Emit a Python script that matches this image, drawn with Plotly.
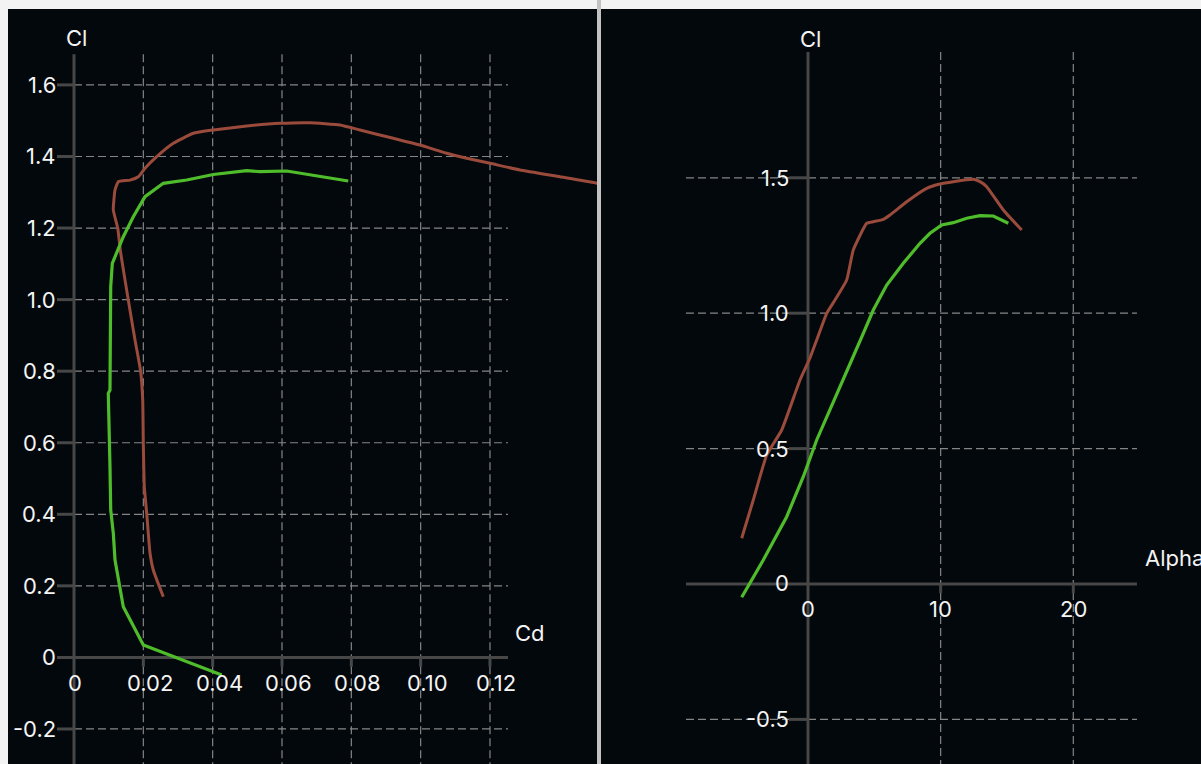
import plotly.graph_objects as go

# ---- polar data: lift coefficient vs drag coefficient ----
cd_brown = [0.02576, 0.02287, 0.02192, 0.02097, 0.02028, 0.01999, 0.01982, 0.01924,
            0.01760, 0.01566, 0.01347, 0.01261, 0.01134, 0.01183, 0.01278, 0.01615,
            0.01855, 0.02048, 0.02386, 0.02864, 0.03441, 0.04018, 0.04982, 0.05942,
            0.06808, 0.07673, 0.08250, 0.09211, 0.09981, 0.10751, 0.11328, 0.12000,
            0.12865, 0.14019, 0.15029, 0.1575]
cl_brown_polar = [0.1696, 0.2443, 0.2918, 0.4036, 0.4771, 0.5992, 0.7194, 0.7985,
                  0.8871, 0.9989, 1.1302, 1.2001, 1.2504, 1.3063, 1.3295, 1.3340,
                  1.3435, 1.3670, 1.3994, 1.4368, 1.4648, 1.4740, 1.4852, 1.4927,
                  1.4944, 1.4880, 1.4740, 1.4508, 1.4321, 1.4089, 1.3949, 1.3809,
                  1.3622, 1.3435, 1.3267, 1.3072]

cd_green = [0.04261, 0.01999, 0.01422, 0.01278, 0.01183, 0.01134, 0.01059, 0.01038,
            0.00989, 0.00989, 0.01038, 0.01038, 0.01059, 0.01105, 0.01232, 0.01422,
            0.01711, 0.02048, 0.02576, 0.03251, 0.04018, 0.04982, 0.05365, 0.06136,
            0.07912]
cl_green_polar = [-0.0492, 0.0347, 0.1417, 0.2163, 0.2722, 0.3468, 0.4120, 0.5330,
                  0.6727, 0.7381, 0.7473, 0.9989, 1.0361, 1.1015, 1.1294, 1.1758,
                  1.2317, 1.2876, 1.3250, 1.3343, 1.3496, 1.3603, 1.3575, 1.3594,
                  1.3315]

# ---- lift curves: lift coefficient vs angle of attack ----
alpha_brown = [-4.998, -4.124, -3.113, -1.983, -0.603, 0.151, 0.656, 1.410, 2.035,
               2.917, 3.415, 4.425, 4.923, 5.677, 6.182, 7.441, 8.948, 9.951,
               10.954, 12.462, 12.966, 13.471, 14.723, 16.110]
cl_brown = [0.1688, 0.3102, 0.4764, 0.5687, 0.7533, 0.8346, 0.9010, 0.9996, 1.0487,
            1.1226, 1.2334, 1.3320, 1.3379, 1.3467, 1.3626, 1.4117, 1.4612, 1.4771,
            1.4856, 1.4945, 1.4856, 1.4671, 1.3811, 1.3072]

alpha_green = [-4.998, -3.370, -1.606, -0.354, 0.656, 2.164, 3.294, 4.169, 4.923,
               5.933, 7.184, 8.443, 9.197, 10.079, 10.954, 11.964, 12.966, 13.969,
               15.100]
cl_green = [-0.0491, 0.0886, 0.2485, 0.3962, 0.5318, 0.7042, 0.8272, 0.9258, 1.0118,
            1.1041, 1.1843, 1.2581, 1.2950, 1.3257, 1.3342, 1.3504, 1.3600, 1.3589,
            1.3320]

# ---- ticks ----
cd_ticks = [0.02, 0.04, 0.06, 0.08, 0.10, 0.12]
cd_tick_text = ["0.02", "0.04", "0.06", "0.08", "0.10", "0.12"]
cl_ticks_left = [-0.2, 0.2, 0.4, 0.6, 0.8, 1.0, 1.2, 1.4, 1.6]
cl_tick_text_left = ["-0.2", "0.2", "0.4", "0.6", "0.8", "1.0", "1.2", "1.4", "1.6"]
alpha_ticks = [10, 20]
alpha_tick_text = ["10", "20"]
cl_ticks_right = [-0.5, 0.5, 1.0, 1.5]
cl_tick_text_right = ["-0.5", "0.5", "1.0", "1.5"]

BG = "#03080c"
AXIS = "#474747"
GRID = "#858585"
TEXT = "#f4f4f4"
BROWN = "#9a4b3c"
GREEN = "#4fbd2b"
FONT = dict(family="Inter, Liberation Sans, sans-serif", size=22, color=TEXT)

W, H = 1201, 764

fig = go.Figure()
fig.add_trace(go.Scatter(x=cd_brown, y=cl_brown_polar, mode="lines",
                         line=dict(color=BROWN, width=3, shape="spline", smoothing=0.4),
                         xaxis="x", yaxis="y"))
fig.add_trace(go.Scatter(x=cd_green, y=cl_green_polar, mode="lines",
                         line=dict(color=GREEN, width=3.2), xaxis="x", yaxis="y"))
fig.add_trace(go.Scatter(x=alpha_brown, y=cl_brown, mode="lines",
                         line=dict(color=BROWN, width=3, shape="spline", smoothing=0.4),
                         xaxis="x2", yaxis="y2"))
fig.add_trace(go.Scatter(x=alpha_green, y=cl_green, mode="lines",
                         line=dict(color=GREEN, width=3.2), xaxis="x2", yaxis="y2"))

# axis ranges for each panel
L_X = [-0.01904, 0.15087]
L_Y = [-0.2979, 1.8122]
R_X = [-15.605, 29.627]
R_Y = [-0.6647, 2.1233]

# extents of the drawn axes / grid
L_XMIN, L_XMAX, L_YTOP = -0.0049, 0.1252, 1.686
R_XMIN, R_XMAX, R_YTOP = -9.2, 24.8, 1.9645
L_YTICK = 0.026
R_YTICK = 0.034
R_XTICK = 1.43

shapes = []


def seg(xr, yr, x0, y0, x1, y1, color, width, dash="solid"):
    shapes.append(dict(type="line", xref=xr, yref=yr, x0=x0, y0=y0, x1=x1, y1=y1,
                       line=dict(color=color, width=width, dash=dash), layer="below"))


grid_dash = "8px,4px"

# left panel grid
for v in cl_ticks_left:
    seg("x", "y", 0, v, L_XMAX, v, GRID, 1.2, grid_dash)
    seg("x", "y", L_XMIN, v, 0, v, AXIS, 3)
for v in cd_ticks:
    seg("x", "y", v, L_YTOP, v, L_Y[0], GRID, 1.2, grid_dash)
    seg("x", "y", v, 0, v, -L_YTICK, AXIS, 3)
seg("x", "y", 0, L_YTOP, 0, L_Y[0], AXIS, 3)
seg("x", "y", L_XMIN, 0, L_XMAX, 0, AXIS, 3)

# right panel grid
for v in cl_ticks_right:
    seg("x2", "y2", 0, v, R_XMAX, v, GRID, 1.2, grid_dash)
    seg("x2", "y2", R_XMIN, v, -R_XTICK, v, GRID, 1.2, grid_dash)
    seg("x2", "y2", -R_XTICK, v, 0, v, AXIS, 3)
for v in alpha_ticks:
    seg("x2", "y2", v, R_YTOP, v, R_Y[0], GRID, 1.2, grid_dash)
    seg("x2", "y2", v, 0, v, -R_YTICK, AXIS, 3)
seg("x2", "y2", 0, R_YTOP, 0, R_Y[0], AXIS, 3)
seg("x2", "y2", R_XMIN, 0, R_XMAX, 0, AXIS, 3)

# divider between the panels
shapes.append(dict(type="rect", xref="paper", yref="paper", x0=597 / W, x1=601 / W,
                   y0=0, y1=1, fillcolor="#c2c2c2", line=dict(width=0), layer="above"))

annotations = []


def label(xr, yr, x, y, text, xanchor="center", xshift=0, yshift=0):
    annotations.append(dict(xref=xr, yref=yr, x=x, y=y, text=text, showarrow=False,
                            xanchor=xanchor, yanchor="middle", xshift=xshift,
                            yshift=yshift, font=FONT))


# left tick labels
label("x", "y", 0, 0, "0", xanchor="right", xshift=-16)
for v, t in zip(cl_ticks_left, cl_tick_text_left):
    label("x", "y", 0, v, t, xanchor="right", xshift=-16)
label("x", "y", 0, 0, "0", xshift=1, yshift=-26)
for v, t in zip(cd_ticks, cd_tick_text):
    label("x", "y", v, 0, t, xshift=6.5, yshift=-26)
label("x", "y", 0, L_YTOP, "Cl", xshift=2, yshift=16)
label("x", "y", L_XMAX, 0, "Cd", xanchor="left", xshift=5, yshift=24)

# right tick labels
label("x2", "y2", 0, 0, "0", xanchor="right", xshift=-17, yshift=1)
for v, t in zip(cl_ticks_right, cl_tick_text_right):
    label("x2", "y2", 0, v, t, xanchor="right", xshift=-17)
label("x2", "y2", 0, 0, "0", yshift=-25)
for v, t in zip(alpha_ticks, alpha_tick_text):
    label("x2", "y2", v, 0, t, yshift=-25)
label("x2", "y2", 0, R_YTOP, "Cl", xshift=2, yshift=13)
label("x2", "y2", R_XMAX, 0, "Alpha", xanchor="left", xshift=6, yshift=26)

axis_common = dict(visible=False, fixedrange=True, showgrid=False, zeroline=False)

fig.update_layout(
    width=W, height=H,
    margin=dict(l=0, r=0, t=0, b=0),
    paper_bgcolor="#f3f3f3",
    plot_bgcolor=BG,
    showlegend=False,
    xaxis=dict(domain=[8 / W, 597 / W], range=L_X, **axis_common),
    yaxis=dict(domain=[0, 755 / H], range=L_Y, **axis_common),
    xaxis2=dict(domain=[601 / W, 1.0], range=R_X, anchor="y2", **axis_common),
    yaxis2=dict(domain=[0, 755 / H], range=R_Y, anchor="x2", **axis_common),
    shapes=shapes,
    annotations=annotations,
)

fig.write_html("out.html")
